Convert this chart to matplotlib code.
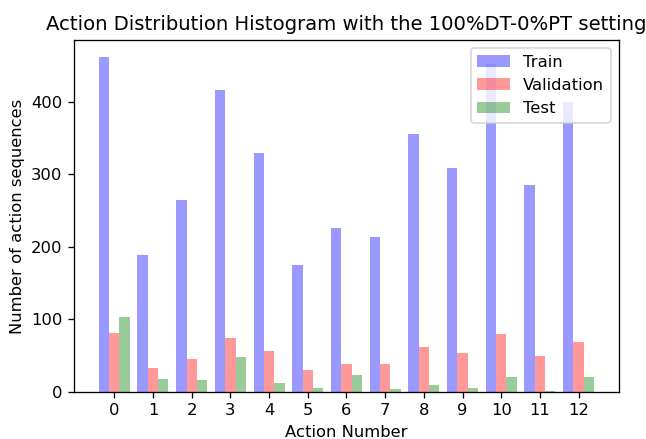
import numpy as np
import matplotlib
matplotlib.use("Agg")
import matplotlib.pyplot as plt

# counts per action
actions = np.arange(13)
train = [462, 189, 264, 416, 329, 175, 226, 214, 356, 308, 452, 285, 400]
validation = [81, 33, 45, 74, 57, 30, 39, 38, 62, 54, 80, 49, 69]
test = [104, 18, 16, 48, 12, 5, 24, 4, 10, 5, 21, 1, 21]

# reference looks rendered at a higher dpi, so shrink inches and bump dpi
dpi = 118
fig = plt.figure(figsize=(646 / dpi, 439 / dpi), dpi=dpi)
ax = fig.add_subplot(1, 1, 1)
fig.subplots_adjust(left=0.1146, right=0.958, top=0.909, bottom=0.107)

w = 0.8 / 3
ax.bar(actions - w, train, width=w, color='blue', alpha=0.4, label='Train')
ax.bar(actions, validation, width=w, color='red', alpha=0.4, label='Validation')
ax.bar(actions + w, test, width=w, color='green', alpha=0.4, label='Test')

ax.set_xticks(actions)
ax.set_xlabel('Action Number')
ax.set_ylabel('Number of action sequences')
ax.set_title('Action Distribution Histogram with the 100%DT-0%PT setting')
ax.legend(loc='upper right')

fig.savefig('out.png', dpi=dpi)
plt.close(fig)
